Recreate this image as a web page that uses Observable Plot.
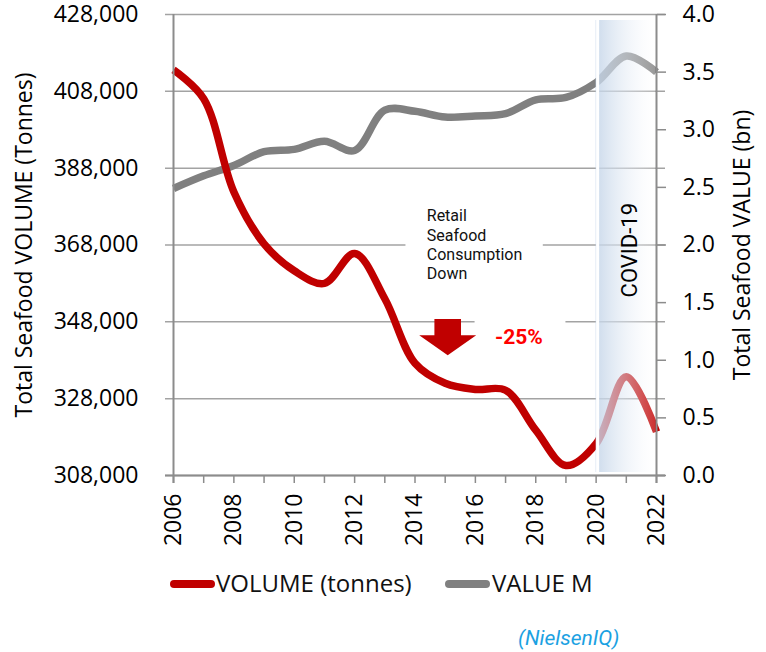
<!DOCTYPE html>
<html>
<head>
<meta charset="utf-8">
<script src="https://cdn.jsdelivr.net/npm/d3@7"></script>
<script src="https://cdn.jsdelivr.net/npm/@observablehq/plot@0.6"></script>
<style>
  body { margin: 0; background: #fff; }
  #wrap { position: relative; width: 766px; height: 652px; overflow: hidden; }
  #chart svg { display: block; }
  .lg-sw { position: absolute; height: 8px; border-radius: 4px; }
  .lg-tx { position: absolute; font-family: "Open Sans", sans-serif; font-size: 24px; line-height: 1; color: #111; white-space: nowrap; }
  .caption { position: absolute; font-family: Roboto, sans-serif; font-style: italic; font-size: 21px; line-height: 1; color: #1ba1e2; white-space: nowrap; }
</style>
</head>
<body>
<div id="wrap">
  <div id="chart"></div>
  <div id="legend"></div>
</div>
<script>
// ---------------- data ----------------
const years = [2006, 2007, 2008, 2009, 2010, 2011, 2012, 2013, 2014, 2015, 2016, 2017, 2018, 2019, 2020, 2021, 2022];
const volumeTonnes = [413600, 406100, 381800, 368300, 361300, 358000, 365800, 354000, 337200, 332000, 330400, 330200, 319800, 310600, 316300, 333700, 319400];
const valueBn = [2.49, 2.60, 2.69, 2.81, 2.83, 2.90, 2.82, 3.17, 3.16, 3.11, 3.12, 3.14, 3.26, 3.28, 3.41, 3.64, 3.50];
const leftTicks = [308000, 328000, 348000, 368000, 388000, 408000, 428000];
const rightTicks = [0, 0.5, 1.0, 1.5, 2.0, 2.5, 3.0, 3.5, 4.0];
const xTickLabels = [2006, 2008, 2010, 2012, 2014, 2016, 2018, 2020, 2022];
const covidBand = [{start: 2020, end: 2022, label: "COVID-19"}];
const seriesNames = ["VOLUME (tonnes)", "VALUE M"];
const seriesColors = ["#c00000", "#808080"];
const leftTitle = "Total Seafood VOLUME (Tonnes)";
const rightTitle = "Total Seafood VALUE (bn)";
const noteText = "Retail\nSeafood\nConsumption\nDown";
const changeText = "-25%";
const sourceText = "(NielsenIQ)";

// annotation anchors (data coordinates)
const noteAt = {year: 2014.39, volume: 377700};
const noteBox = {x1: 2013.70, x2: 2018.25, y1: 356200, y2: 379600};
const changeAt = {year: 2016.65, volume: 343900};
const changeBox = {x1: 2015.99, x2: 2019.0, y1: 343000, y2: 352500};
const arrowAt = {year: 2015.1, top: 348600, tip: 339200};
const covidTextAt = {year: 2021.12, volume: 366650};

// ---------------- scales helpers ----------------
const volDomain = [308000, 428000];
const valMax = 4;
const toVol = v => volDomain[0] + v * (volDomain[1] - volDomain[0]) / valMax;
const fromVol = y => (y - volDomain[0]) * valMax / (volDomain[1] - volDomain[0]);

const volumeData = years.map((y, i) => ({year: y, volume: volumeTonnes[i]}));
const valueData = years.map((y, i) => ({year: y, vol: toVol(valueBn[i])}));

const axisGray = "#8c8c8c";
const gridGray = "#a3a3a3";

const defsMark = () => {
  const defs = d3.create("svg:defs");
  const g = defs.append("linearGradient").attr("id", "covidGrad")
    .attr("x1", 0).attr("x2", 1).attr("y1", 0).attr("y2", 0);
  g.append("stop").attr("offset", "0%").attr("stop-color", "#c3d4e8").attr("stop-opacity", 0.85);
  g.append("stop").attr("offset", "100%").attr("stop-color", "#ffffff").attr("stop-opacity", 0.2);
  return defs.node();
};

const arrowMark = (index, scales) => {
  const x = scales.x(arrowAt.year);
  const yTop = scales.y(arrowAt.top);
  const yTip = scales.y(arrowAt.tip);
  const headH = 20, shaftW = 13.3, headW = 28.5;
  const yNeck = yTip - headH;
  const pts = [
    [x - shaftW, yTop], [x + shaftW, yTop], [x + shaftW, yNeck], [x + headW, yNeck],
    [x, yTip], [x - headW, yNeck], [x - shaftW, yNeck]
  ];
  const s = d3.create("svg:polygon")
    .attr("points", pts.map(p => p.join(",")).join(" "))
    .attr("fill", "#c00000");
  return s.node();
};

const chart = Plot.plot({
  width: 766,
  height: 560,
  marginLeft: 173,
  marginRight: 110,
  marginTop: 14,
  marginBottom: 85,
  x: {domain: [2006, 2022]},
  y: {domain: volDomain},
  style: {fontFamily: "'Open Sans', sans-serif", fontSize: "23px", color: "#000", background: "white", overflow: "visible"},
  marks: [
    defsMark,
    // gridlines
    Plot.ruleY(leftTicks, {stroke: gridGray, strokeWidth: 1.5, insetLeft: -8, insetRight: -9}),
    // white boxes behind annotations
    Plot.rect([noteBox], {x1: "x1", x2: "x2", y1: "y1", y2: "y2", fill: "white"}),
    Plot.rect([changeBox], {x1: "x1", x2: "x2", y1: "y1", y2: "y2", fill: "white"}),
    // series
    Plot.line(valueData, {x: "year", y: "vol", stroke: seriesColors[1], strokeWidth: 7.5, curve: "catmull-rom", strokeLinecap: "butt"}),
    Plot.line(volumeData, {x: "year", y: "volume", stroke: seriesColors[0], strokeWidth: 7.5, curve: "catmull-rom", strokeLinecap: "butt"}),
    // covid band
    Plot.rect(covidBand, {x1: "start", x2: "end", fill: "url(#covidGrad)", insetTop: 6, insetBottom: 3, insetRight: 1}),
    Plot.ruleX(covidBand, {x: "start", stroke: "white", strokeWidth: 3, dx: 1.5, insetTop: 6, insetBottom: 3}),
    Plot.text(covidBand, {x: () => covidTextAt.year, y: () => covidTextAt.volume, text: "label", rotate: -90, fontFamily: "Roboto, sans-serif", fontSize: 22, fill: "#000"}),
    // axis lines
    Plot.ruleX([2006, 2022], {stroke: axisGray, strokeWidth: 2, insetBottom: -8}),
    Plot.ruleY([volDomain[0]], {stroke: axisGray, strokeWidth: 2, insetLeft: -8, insetRight: -9}),
    // axes
    Plot.axisY(leftTicks, {anchor: "left", tickSize: 0, tickPadding: 35, tickFormat: d3.format(","), label: null, fill: "#000", fontSize: 23}),
    Plot.axisY(rightTicks.map(toVol), {anchor: "right", tickSize: 9, tickPadding: 17, tickFormat: d => fromVol(d).toFixed(1), stroke: axisGray, strokeWidth: 1.5, label: null, fill: "#000", fontSize: 23}),
    Plot.axisX(years, {anchor: "bottom", tickSize: 8, tickFormat: () => "", stroke: axisGray, strokeWidth: 1.5, label: null}),
    Plot.axisX(xTickLabels, {anchor: "bottom", tickSize: 0, tickPadding: 18, tickRotate: -90, textAnchor: "end", tickFormat: d => String(d), label: null, fill: "#000", fontSize: 23}),
    // axis titles
    Plot.text([leftTitle], {frameAnchor: "left", dx: -148.5, rotate: -90, textAnchor: "middle", text: d => d, fontSize: 23, fill: "#000"}),
    Plot.text([rightTitle], {frameAnchor: "right", dx: 86.6, rotate: -90, textAnchor: "middle", text: d => d, fontSize: 23, fill: "#000"}),
    // annotations
    Plot.text([noteText], {x: () => noteAt.year, y: () => noteAt.volume, text: d => d, textAnchor: "start", lineAnchor: "top", lineHeight: 1.2, fontFamily: "Roboto, sans-serif", fontSize: 16, fill: "#111"}),
    arrowMark,
    Plot.text([changeText], {x: () => changeAt.year, y: () => changeAt.volume, text: d => d, textAnchor: "start", fontFamily: "Roboto, sans-serif", fontWeight: "bold", fontSize: 21, fill: "#ff0000"})
  ]
});
document.getElementById("chart").appendChild(chart);

// ---------------- legend & caption (HTML below the SVG) ----------------
const legend = d3.select("#legend");
const swatchLeft = [170, 445];
const textLeft = [216, 492];
seriesNames.forEach((name, i) => {
  legend.append("div").attr("class", "lg-sw")
    .style("left", swatchLeft[i] + "px").style("top", "580px").style("width", "45px")
    .style("background", seriesColors[i]);
  legend.append("div").attr("class", "lg-tx")
    .style("left", textLeft[i] + "px").style("top", "571px").text(name);
});
legend.append("div").attr("class", "caption").style("left", "518px").style("top", "628px").text(sourceText);
</script>
</body>
</html>
